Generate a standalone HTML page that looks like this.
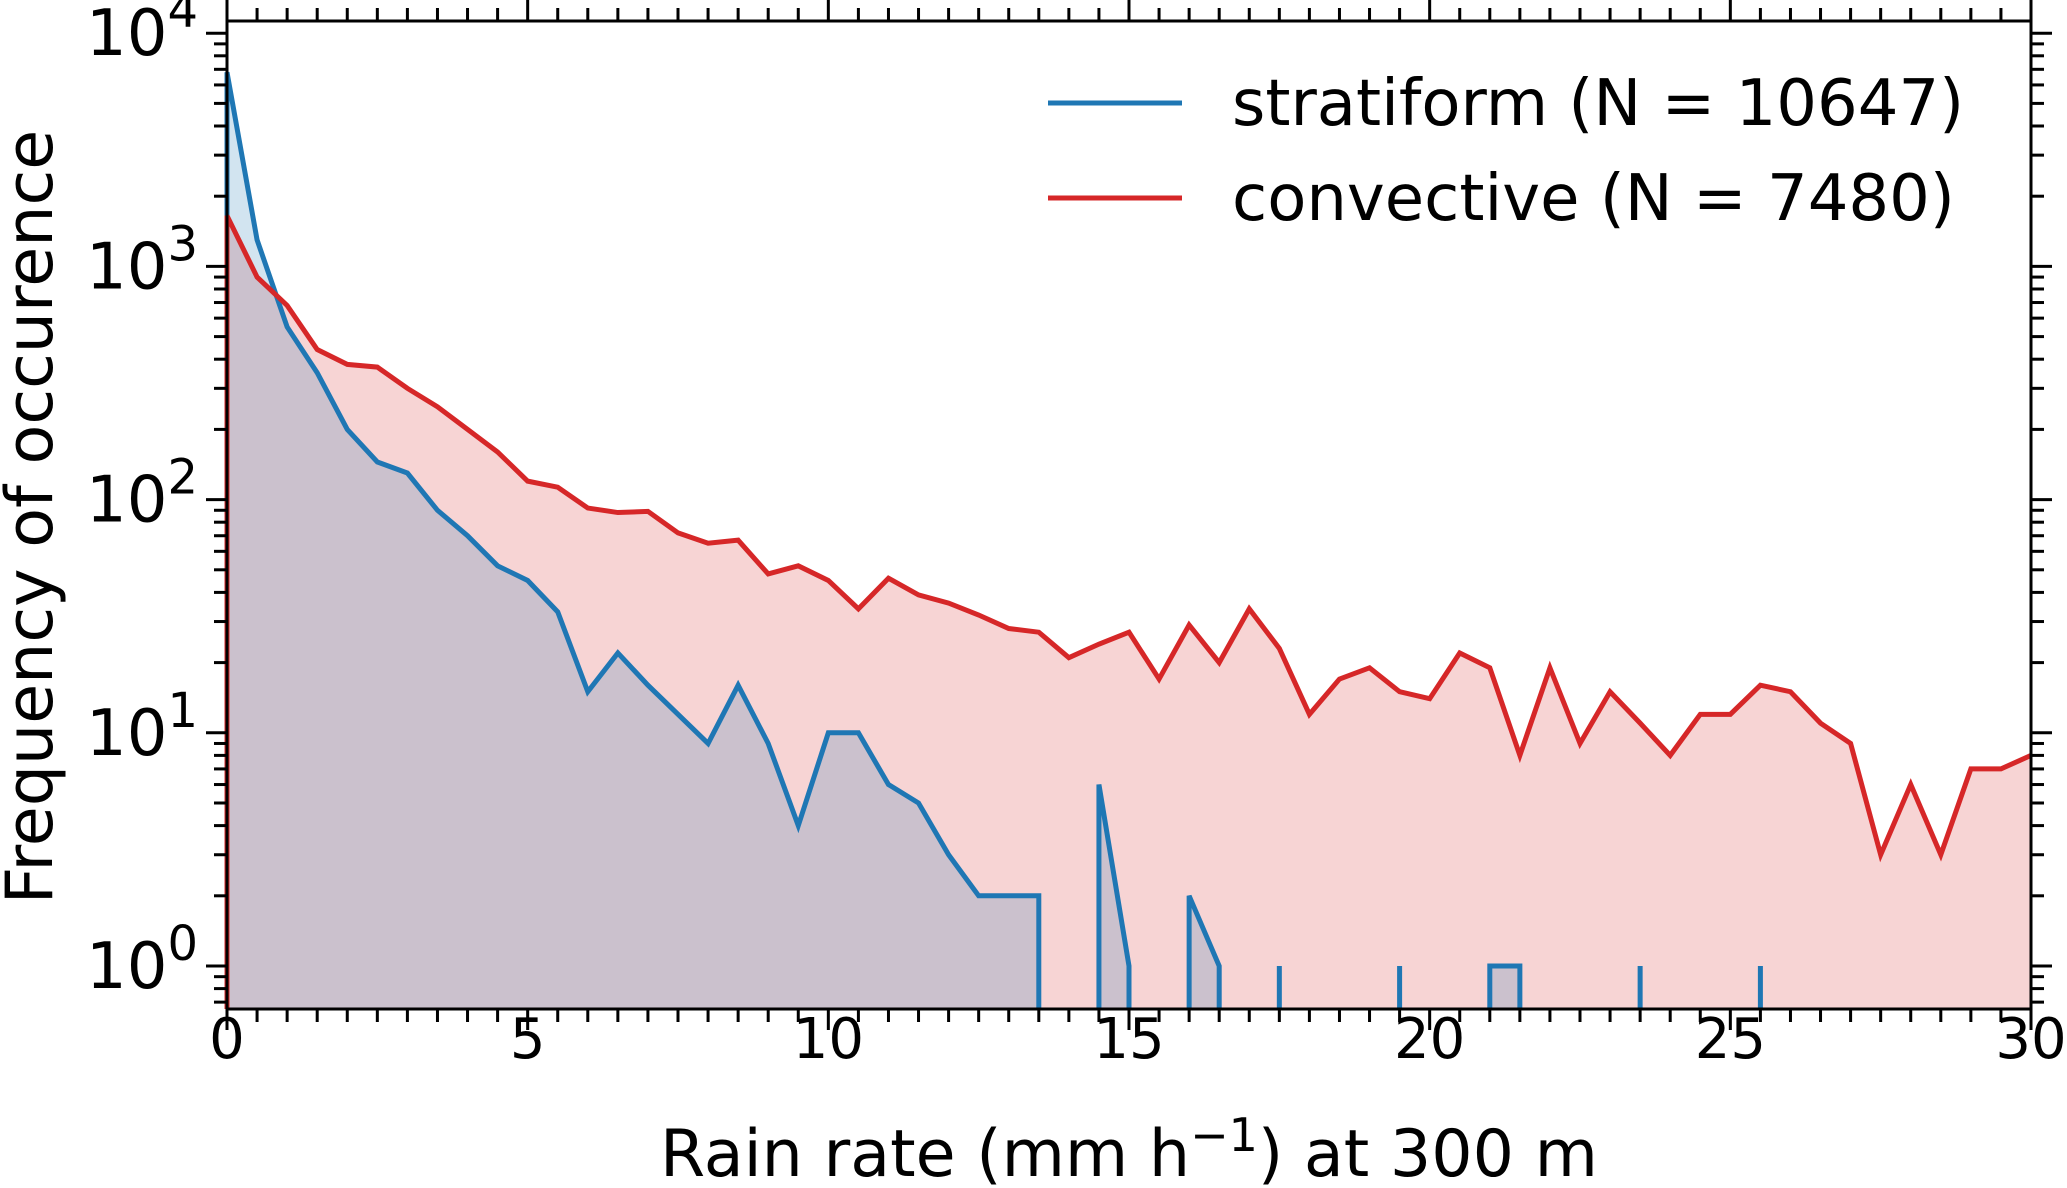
<!DOCTYPE html>
<html><head><meta charset="utf-8"><style>
html,body{margin:0;padding:0;background:#fff;}
svg{display:block;font-family:"DejaVu Sans","Liberation Sans",sans-serif;}
</style></head><body>
<svg id="chart" width="2067" height="1188" viewBox="0 0 2067 1188">
<g id="fills"></g><g id="lines"></g><g id="axes"></g>
</svg>
<script>
const binStep = 0.5;
const stratiform = [6800,1300,550,350,200,145,130,90,70,52,45,33,15,22,16,12,9,16,9,4,10,10,6,5,3,2,2,2,0,6,1,0,2,1,0,1,0,0,0,1,0,0,1,1,0,0,0,1,0,0,0,1,0,0,0,0,0,0,0,0,0];
const convective = [1650,900,680,440,380,370,300,250,200,160,120,113,92,88,89,72,65,67,48,52,45,34,46,39,36,32,28,27,21,24,27,17,29,20,34,23,12,17,19,15,14,22,19,8,19,9,15,11,8,12,12,16,15,11,9,3,6,3,7,7,8];
const xTicks = [0,5,10,15,20,25,30];
const yTickExp = [0,1,2,3,4];
const legendLabels = ["stratiform (N = 10647)","convective (N = 7480)"];

const L=227,R=2031,T=21,B=1009;
const X=v=>L+(v/30)*(R-L);
const Y=v=>966-233.2*Math.log10(v);
const NS="http://www.w3.org/2000/svg";
function mk(tag,attrs,parent){const e=document.createElementNS(NS,tag);for(const k in attrs)e.setAttribute(k,attrs[k]);parent.appendChild(e);return e;}
const fills=document.getElementById('fills'),lines=document.getElementById('lines'),axes=document.getElementById('axes');

function buildPath(vals){
  let d="",prev=0;
  vals.forEach((v,i)=>{
    const x=X(i*binStep);
    if(v>0){
      if(prev>0){d+=`L${x},${Y(v)}`;}
      else{d+=`M${x},${B}L${x},${Y(v)}`;}
    } else if(prev>0){d+=`L${X((i-1)*binStep)},${B}`;}
    prev=v;
  });
  return d;
}
function fillPath(vals){
  let d="",prev=0;
  vals.forEach((v,i)=>{
    const x=X(i*binStep);
    if(v>0){ if(prev>0)d+=`L${x},${Y(v)}`; else d+=`M${x},${B}L${x},${Y(v)}`; }
    else if(prev>0){d+=`L${X((i-1)*binStep)},${B}Z`;}
    prev=v;
  });
  if(prev>0)d+=`L${X((vals.length-1)*binStep)},${B}Z`;
  return d;
}
const cf=mk('path',{d:fillPath(convective),fill:'#d62728','fill-opacity':0.2},fills);


const sf=mk('path',{d:fillPath(stratiform),fill:'#1f77b4','fill-opacity':0.2},fills);


const sl=mk('path',{d:buildPath(stratiform),fill:'none',stroke:'#1f77b4','stroke-width':5,'stroke-linejoin':'miter'},lines);


const cl=mk('path',{d:buildPath(convective),fill:'none',stroke:'#d62728','stroke-width':5},lines);



mk('rect',{x:L,y:0,width:R-L,height:T,fill:'#fff'},axes);
const frame=mk('rect',{x:L,y:T,width:R-L,height:B-T,fill:'none',stroke:'#000','stroke-width':3},axes);



for(let v=0;v<=30;v+=0.5){
  const x=X(v),maj=(v%5===0),len=maj?21:13;
  mk('line',{x1:x,y1:B,x2:x,y2:B+len,stroke:'#000','stroke-width':3},axes);
  mk('line',{x1:x,y1:T,x2:x,y2:T-len,stroke:'#000','stroke-width':3},axes);
}
xTicks.forEach(v=>{
  const t=mk('text',{x:X(v),y:1058,'text-anchor':'middle','font-size':56},axes);
  t.textContent=v;
  
  
});
for(let e=-1;e<=4;e++){
  for(let m=1;m<10;m++){
    const v=m*Math.pow(10,e),y=Y(v);
    if(y<T-0.5||y>B+0.5)continue;
    const len=m===1?21:13;
    mk('line',{x1:L,y1:y,x2:L-len,y2:y,stroke:'#000','stroke-width':3},axes);
    mk('line',{x1:R,y1:y,x2:R+len,y2:y,stroke:'#000','stroke-width':3},axes);
  }
}
yTickExp.forEach(e=>{
  const t=mk('text',{x:198,y:Y(Math.pow(10,e))+22,'text-anchor':'end','font-size':64},axes);
  
  
  const a=mk('tspan',{},t);a.textContent='10';
  const b=mk('tspan',{dy:-28,'font-size':48},t);b.textContent=e;
});
const xl=mk('text',{x:(L+R)/2,y:1176,'text-anchor':'middle','font-size':65},axes);


xl.innerHTML='Rain rate (mm h<tspan dy="-25" font-size="46">−1</tspan><tspan dy="25">) at 300 m</tspan>';
const yl=mk('text',{x:0,y:0,'text-anchor':'middle','font-size':65,transform:'translate(52,517) rotate(-90)'},axes);
yl.textContent='Frequency of occurence';


const colors=['#1f77b4','#d62728'];
legendLabels.forEach((lab,i)=>{
  const y=103+i*95;
  const g=mk('g',{},axes);
  
  
  mk('line',{x1:1048,y1:y,x2:1182,y2:y,stroke:colors[i],'stroke-width':5},g);
  const t=mk('text',{x:1232,y:y+22,'font-size':64},g);
  t.textContent=lab;
});
</script>
</body></html>
